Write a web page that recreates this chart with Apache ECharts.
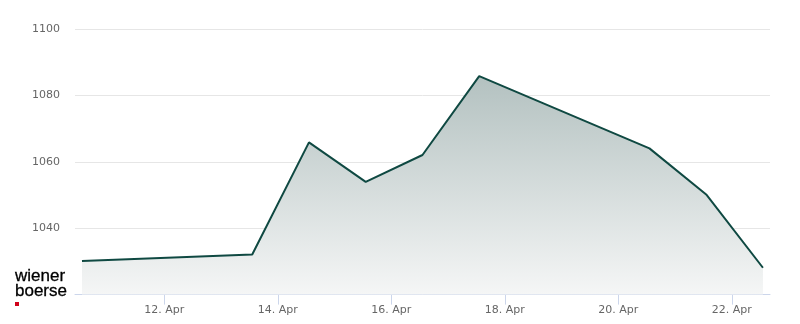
<!DOCTYPE html>
<html><head><meta charset="utf-8">
<script src="https://cdn.jsdelivr.net/npm/echarts@6/dist/echarts.min.js"></script>
<style>html,body{margin:0;padding:0;background:#fff}#c{width:800px;height:324px}</style>
</head><body><div id="c"></div>
<script>
const dates = ['2026-04-10T13:10:00','2026-04-13T13:10:00','2026-04-14T13:10:00','2026-04-15T13:10:00','2026-04-16T13:10:00','2026-04-17T13:10:00','2026-04-20T13:10:00','2026-04-21T13:10:00','2026-04-22T13:10:00'];
const values = [1030.1, 1032.1, 1065.9, 1054.0, 1062.1, 1085.9, 1064.1, 1050.2, 1028.1];
const yTicks = [1020, 1040, 1060, 1080, 1100];
const xTickDates = ['2026-04-12T00:00:00','2026-04-14T00:00:00','2026-04-16T00:00:00','2026-04-18T00:00:00','2026-04-20T00:00:00','2026-04-22T00:00:00'];
const xMin = '2026-04-10T10:13:00';
const xMax = '2026-04-22T16:09:00';

const ts = s => new Date(s).getTime();
const tickVals = xTickDates.map(ts);

const chart = echarts.init(document.getElementById('c'), null, {renderer:'canvas'});
chart.setOption({
  animation:false,
  grid:{left:75, right:30, top:29.3, bottom:29.4, containLabel:false},
  xAxis:{
    type:'value', min:ts(xMin), max:ts(xMax),
    axisLine:{show:true, lineStyle:{color:'#ccd6eb', width:1}},
    axisTick:{show:true, length:10, lineStyle:{color:'#ccd6eb'}, customValues: tickVals},
    splitLine:{show:false},
    axisLabel:{
      color:'#666', fontSize:11, fontFamily:'DejaVu Sans', margin:10,
      customValues: tickVals,
      formatter:function(v){const d=new Date(v);return d.getDate()+'. Apr';}
    }
  },
  yAxis:{
    type:'value', min:yTicks[0], max:yTicks[yTicks.length-1], interval:20,
    axisLine:{show:false}, axisTick:{show:false},
    splitLine:{show:true, lineStyle:{color:'#e6e6e6', width:1}},
    axisLabel:{color:'#666', fontSize:11, fontFamily:'DejaVu Sans', margin:15, padding:[4,0,0,0],
      formatter:function(v){return v===1020?'':String(v);}}
  },
  series:[{
    type:'line',
    data: dates.map((d,i)=>[ts(d), values[i]]),
    showSymbol:false, symbol:'none',
    lineStyle:{color:'#0f4942', width:2},
    itemStyle:{color:'#0f4942'},
    areaStyle:{origin:'start', opacity:1, color:new echarts.graphic.LinearGradient(0,0,0,1,[
      {offset:0, color:'#b3c1c0'},{offset:1, color:'#f5f6f6'}
    ])}
  }],
  graphic:[
    {type:'text', style:{x:15, y:276, text:'wiener', fill:'#000', font:'17px "Liberation Sans", Arial, sans-serif', textVerticalAlign:'middle', stroke:'#000', lineWidth:0.3}},
    {type:'text', style:{x:15, y:291, text:'boerse', fill:'#000', font:'17px "Liberation Sans", Arial, sans-serif', textVerticalAlign:'middle', stroke:'#000', lineWidth:0.3}},
    {type:'rect', shape:{x:15, y:302, width:4, height:4}, style:{fill:'#d0021b'}}
  ]
});
</script></body></html>
